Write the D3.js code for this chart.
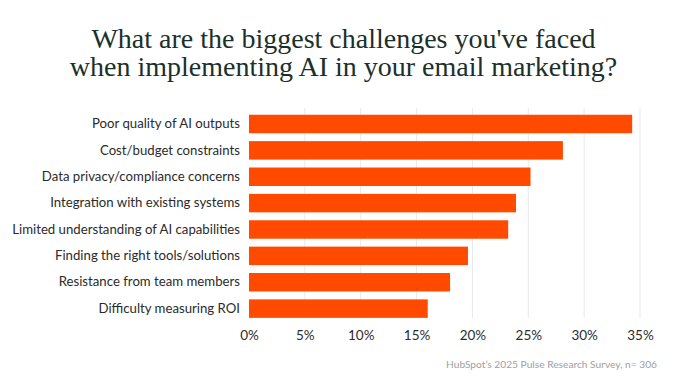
<!DOCTYPE html>
<html><head><meta charset="utf-8">
<script src="https://cdn.jsdelivr.net/npm/d3@7"></script>
<style>
html,body{margin:0;padding:0;background:#fff;}
svg{display:block;}
</style></head>
<body><svg id="c" width="687" height="387"></svg>
<script>
const titleLines = ["What are the biggest challenges you've faced", "when implementing AI in your email marketing?"];
const categories = ["Poor quality of AI outputs","Cost/budget constraints","Data privacy/compliance concerns","Integration with existing systems","Limited understanding of AI capabilities","Finding the right tools/solutions","Resistance from team members","Difficulty measuring ROI"];
const values = [34.3, 28.1, 25.2, 23.9, 23.2, 19.6, 18.0, 16.0];
const tickValues = [0,5,10,15,20,25,30,35];
const source = "HubSpot\u2019s 2025 Pulse Research Survey, n= 306";

const svg = d3.select("#c");
const x = d3.scaleLinear().domain([0,35]).range([249,640]);
const y = d3.scaleBand().domain(categories).range([110.8,321.8]).paddingInner(0.3).paddingOuter(0.15);

// title
const tt = svg.append("g");
titleLines.forEach((t,i)=>{
  tt.append("text").attr("x",343.5).attr("y",48+i*28).attr("text-anchor","middle")
    .attr("font-family","Liberation Serif, serif").attr("font-size",28).attr("fill","#1b302b").text(t);
});

// grid
svg.append("g").selectAll("line").data(tickValues.filter(d=>d>0)).join("line")
  .attr("x1",d=>x(d)).attr("x2",d=>x(d)).attr("y1",108).attr("y2",318)
  .attr("stroke","#e9e9e9").attr("stroke-width",1);

// bars
svg.append("g").selectAll("rect").data(values).join("rect")
  .attr("x",x(0)).attr("y",(d,i)=>y(categories[i])).attr("width",d=>x(d)-x(0)).attr("height",y.bandwidth())
  .attr("fill","#ff4a00");

// y labels
const ya = svg.append("g").attr("transform",`translate(${x(0)-9},0)`).call(d3.axisLeft(y).tickSize(0).tickPadding(0));
ya.select(".domain").remove();
ya.selectAll("text").attr("font-family","Lato, sans-serif").attr("font-size",13.2).attr("fill","#2b2b2b");

// x axis
const xa = svg.append("g").attr("transform","translate(0,321)").call(d3.axisBottom(x).tickValues(tickValues).tickFormat(d=>d+"%").tickSize(0).tickPadding(9));
xa.select(".domain").remove();
xa.selectAll("text").attr("font-family","Lato, sans-serif").attr("font-size",13.5).attr("fill","#2b2b2b");

svg.append("text").attr("x",657).attr("y",368).attr("text-anchor","end")
  .attr("font-family","Lato, sans-serif").attr("font-size",10.2).attr("fill","#a0a0a0").text(source);
</script></body></html>
